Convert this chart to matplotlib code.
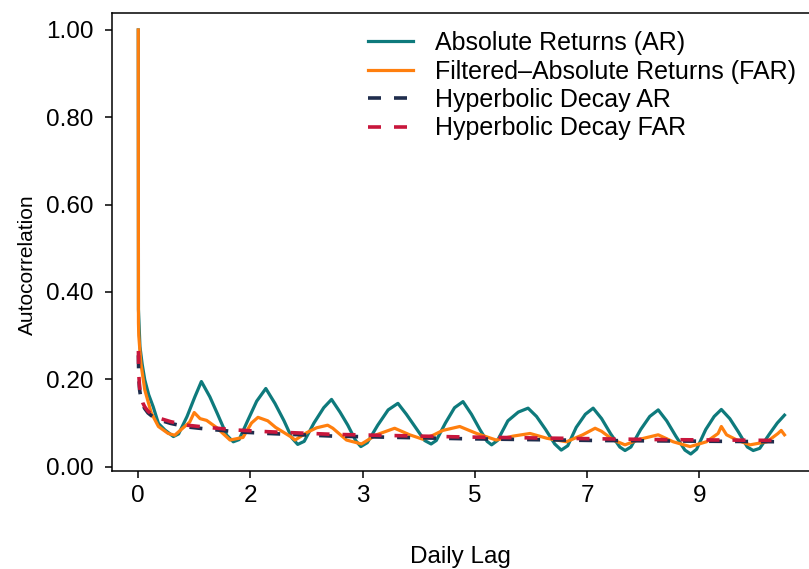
import numpy as np
import matplotlib.pyplot as plt

plt.rcParams['font.family'] = ['Liberation Sans', 'DejaVu Sans']

# Lag in days, autocorrelation values
ar_dias = [0.0, 0.003, 0.026, 0.06, 0.10, 0.16, 0.23, 0.31, 0.41, 0.54, 0.62, 0.75, 0.87, 0.97,
           1.10, 1.22, 1.36, 1.46, 1.55, 1.68, 1.82, 1.96, 2.10, 2.24, 2.36, 2.45, 2.55, 2.70,
           2.85, 2.97, 3.10, 3.22, 3.34, 3.42, 3.52, 3.68, 3.84, 3.99, 4.12, 4.26, 4.40, 4.50,
           4.58, 4.72, 4.86, 4.99, 5.12, 5.25, 5.36, 5.43, 5.52, 5.68, 5.84, 5.99, 6.12, 6.26,
           6.40, 6.50, 6.60, 6.73, 6.87, 6.99, 7.12, 7.26, 7.40, 7.48, 7.57, 7.72, 7.86, 7.99,
           8.12, 8.26, 8.40, 8.49, 8.58, 8.72, 8.85, 8.96, 9.09, 9.22, 9.36, 9.45, 9.55, 9.70,
           9.82, 9.93]
ar_valores = [1.0, 0.36, 0.275, 0.235, 0.199, 0.165, 0.137, 0.099, 0.084, 0.069, 0.075, 0.115, 0.160, 0.195,
              0.160, 0.120, 0.072, 0.057, 0.062, 0.105, 0.150, 0.179, 0.145, 0.105, 0.066, 0.051, 0.058, 0.100,
              0.135, 0.154, 0.125, 0.095, 0.060, 0.046, 0.055, 0.095, 0.130, 0.145, 0.120, 0.090, 0.060, 0.052,
              0.060, 0.100, 0.135, 0.149, 0.120, 0.085, 0.058, 0.050, 0.060, 0.105, 0.125, 0.134, 0.115, 0.085,
              0.052, 0.038, 0.048, 0.090, 0.120, 0.134, 0.110, 0.075, 0.045, 0.037, 0.045, 0.085, 0.115, 0.130,
              0.105, 0.070, 0.038, 0.029, 0.040, 0.085, 0.115, 0.131, 0.110, 0.080, 0.045, 0.037, 0.042, 0.075,
              0.100, 0.118]

far_dias = [0.0, 0.003, 0.008, 0.04, 0.10, 0.20, 0.31, 0.46, 0.56, 0.79, 0.86, 0.95, 1.05, 1.20, 1.41,
            1.61, 1.74, 1.84, 1.99, 2.11, 2.36, 2.41, 2.59, 2.74, 2.91, 2.99, 3.20, 3.43, 3.66, 3.94,
            4.17, 4.37, 4.53, 4.68, 4.94, 5.20, 5.50, 5.76, 6.02, 6.28, 6.58, 6.83, 7.02, 7.12, 7.30,
            7.48, 7.71, 7.99, 8.22, 8.48, 8.73, 8.91, 8.96, 9.04, 9.20, 9.40, 9.66, 9.83, 9.88, 9.93]
far_valores = [1.0, 0.33, 0.30, 0.237, 0.176, 0.123, 0.092, 0.076, 0.072, 0.102, 0.124, 0.110, 0.106, 0.090, 0.061,
               0.067, 0.100, 0.113, 0.105, 0.090, 0.067, 0.061, 0.078, 0.089, 0.095, 0.088, 0.061, 0.052, 0.073, 0.088,
               0.073, 0.063, 0.072, 0.083, 0.092, 0.076, 0.061, 0.070, 0.076, 0.065, 0.057, 0.073, 0.088, 0.081, 0.061,
               0.050, 0.063, 0.073, 0.057, 0.046, 0.057, 0.076, 0.092, 0.073, 0.061, 0.050, 0.057, 0.076, 0.083, 0.073]

hip_dias = [0.0026, 0.005, 0.01, 0.02, 0.04, 0.07, 0.1, 0.15, 0.2, 0.3, 0.5, 0.75, 1.0, 1.5, 2.0,
            3.0, 4.0, 5.0, 6.0, 7.0, 8.0, 9.0, 9.93]
hip_ar = [0.255, 0.228, 0.200, 0.177, 0.157, 0.142, 0.133, 0.123, 0.117, 0.108, 0.099, 0.091, 0.087,
          0.080, 0.076, 0.070, 0.067, 0.064, 0.062, 0.060, 0.059, 0.058, 0.057]
hip_far = [0.265, 0.235, 0.207, 0.183, 0.162, 0.146, 0.137, 0.127, 0.121, 0.112, 0.103, 0.095, 0.091,
           0.084, 0.080, 0.074, 0.071, 0.068, 0.066, 0.064, 0.062, 0.061, 0.060]

xtick_rotulos = ["0", "2", "3", "5", "7", "9"]
ytick_valores = [0.0, 0.2, 0.4, 0.6, 0.8, 1.0]

cor_ar = '#0e7a7c'
cor_far = '#ff7f0e'
cor_hip_ar = '#1f2d4d'
cor_hip_far = '#c8163c'

tam = 17.5

fig = plt.figure(figsize=(8.09, 5.69), dpi=100)
ax = fig.add_axes([0.1384, 0.1728, 0.8616, 0.8044])

ax.plot(ar_dias, ar_valores, color=cor_ar, lw=2.3, label='Absolute Returns (AR)')
ax.plot(far_dias, far_valores, color=cor_far, lw=2.3, label='Filtered\u2013Absolute Returns (FAR)')
ax.plot(hip_dias, hip_ar, color=cor_hip_ar, lw=2.6, dashes=(3.6, 3.6), label='Hyperbolic Decay AR')
ax.plot(hip_dias, hip_far, color=cor_hip_far, lw=2.6, dashes=(3.6, 3.6), label='Hyperbolic Decay FAR')

ax.set_xlim(-0.404, 10.307)
ax.set_ylim(-0.00916, 1.0389)

# ticks a cada 100 intervalos de 58 por dia
ax.set_xticks(np.arange(len(xtick_rotulos)) * 100 / 58)
ax.set_xticklabels(xtick_rotulos)
ax.set_yticks(ytick_valores)
ax.set_yticklabels([f"{v:.2f}" for v in ytick_valores])
ax.tick_params(axis='both', labelsize=tam, length=5, width=1.1, color='black')
ax.tick_params(axis='y', pad=8.4)
ax.tick_params(axis='x', pad=5.5)

ax.spines['right'].set_visible(False)
for s in ['left', 'bottom', 'top']:
    ax.spines[s].set_linewidth(1.1)

fig.text(33 / 809, 1 - 265 / 569, 'Autocorrelation', rotation=90, rotation_mode='anchor',
         ha='center', va='baseline', fontsize=15)
fig.text(460 / 809, 1 - 563.3 / 569, 'Daily Lag', ha='center', va='baseline', fontsize=tam)

ax.legend(loc='upper left', bbox_to_anchor=(368 / 809, 1 - 31 / 569), bbox_transform=fig.transFigure,
          frameon=False, fontsize=18, handlelength=1.8, handletextpad=0.87, labelspacing=0.18,
          borderpad=0, borderaxespad=0)

plt.savefig('out.png', dpi=100)
